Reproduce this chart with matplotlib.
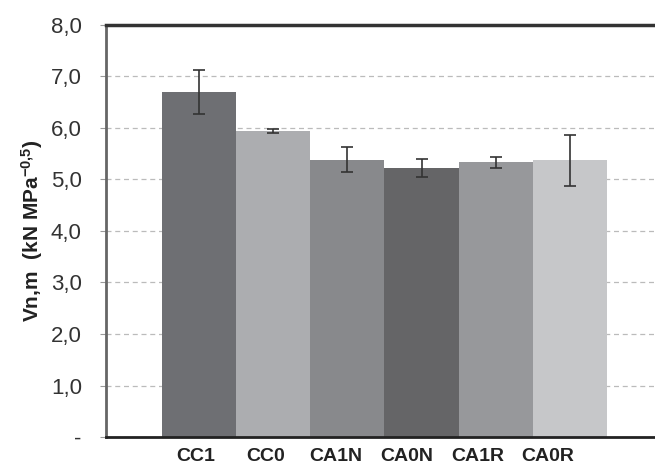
import matplotlib
matplotlib.use('Agg')
import matplotlib.pyplot as plt
import numpy as np

categories = ['CC1', 'CC0', 'CA1N', 'CA0N', 'CA1R', 'CA0R']
means = [6.70, 5.94, 5.38, 5.22, 5.33, 5.37]
errors = [0.43, 0.035, 0.24, 0.18, 0.10, 0.49]
colors = ['#6e6f73', '#acadb0', '#88898c', '#656567', '#97989b', '#c6c7c9']
y_ticks = [0, 1, 2, 3, 4, 5, 6, 7, 8]
y_ticklabels = ['-', '1,0', '2,0', '3,0', '4,0', '5,0', '6,0', '7,0', '8,0']

plt.rcParams['font.family'] = ['Liberation Sans', 'DejaVu Sans']
plt.rcParams['mathtext.default'] = 'regular'

fig = plt.figure(figsize=(6.55, 4.68), dpi=100)
ax = fig.add_axes([0.162, 0.066, 0.850, 0.881])

x = np.arange(len(categories))
ax.bar(x, means, width=1.0, color=colors, zorder=2)
ax.errorbar(x, means, yerr=errors, fmt='none', ecolor='#333333',
            elinewidth=1.2, capsize=4, capthick=1.2, zorder=3)

ax.set_xlim(-1.25, 6.25)
ax.set_ylim(0, 8)
ax.set_yticks(y_ticks)
ax.set_yticklabels(y_ticklabels, fontsize=16, color='#333333')
ax.yaxis.grid(True, linestyle=(0, (4, 3)), color='#bbbbbb', linewidth=0.9, zorder=0)
ax.tick_params(axis='y', length=4.5, width=0.8, color='#999999', pad=13)

# tick labels sit slightly left of the bar centres in the original
ax.set_xticks(x * 0.95 - 0.05)
ax.set_xticklabels(categories, fontsize=14, fontweight='bold', color='#222222')
ax.tick_params(axis='x', length=0, pad=8)

ax.set_ylabel('Vn,m  (kN MPa$^{-0{,}5}$)', fontsize=15, fontweight='bold',
              color='#222222', labelpad=4)

ax.spines['right'].set_visible(False)
ax.spines['left'].set_color('#666666')
ax.spines['left'].set_linewidth(2)
ax.spines['top'].set_color('#333333')
ax.spines['top'].set_linewidth(2.5)
ax.spines['bottom'].set_color('#222222')
ax.spines['bottom'].set_linewidth(2)

fig.savefig('out.png', dpi=100)
